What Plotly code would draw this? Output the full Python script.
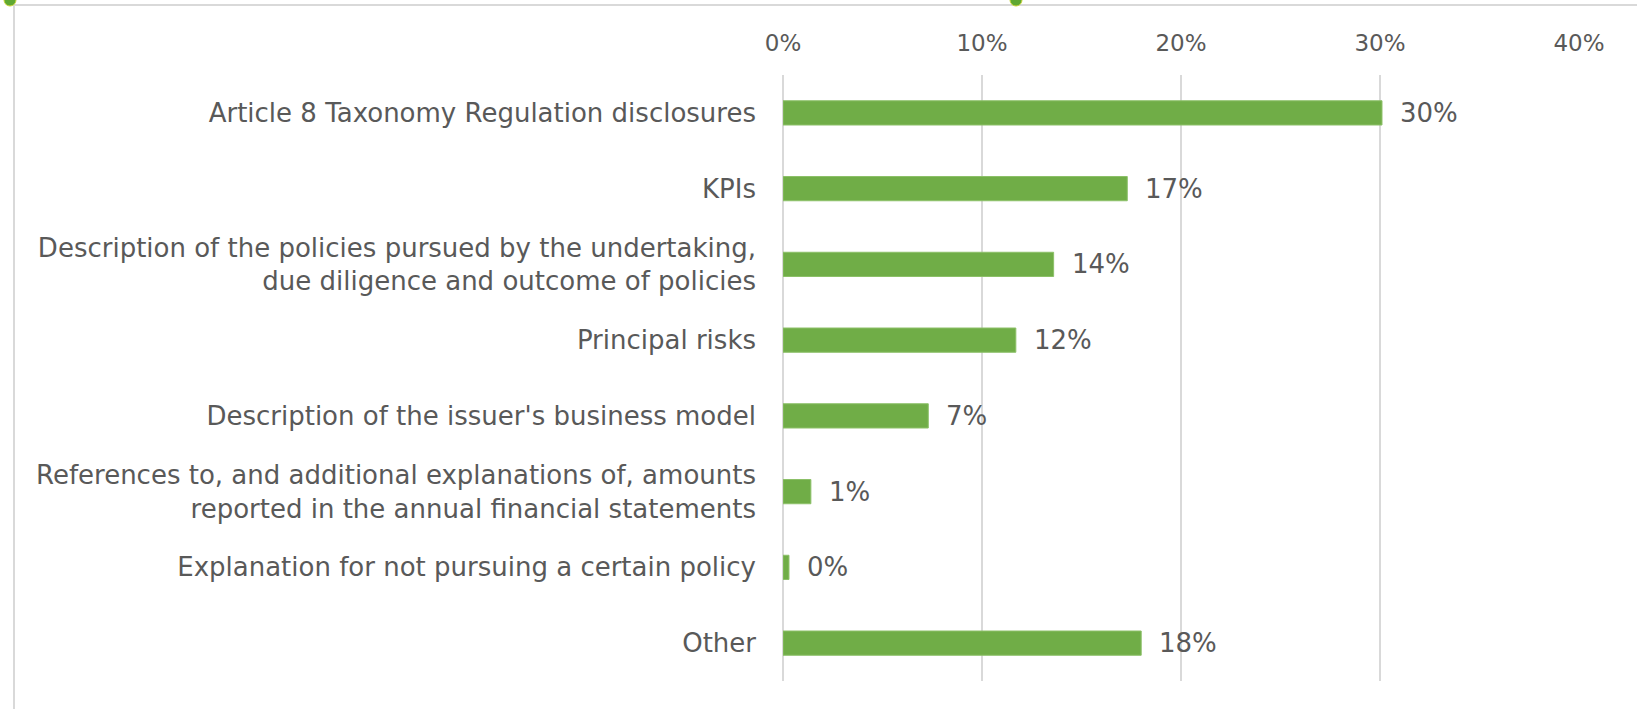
import plotly.graph_objects as go

categories = [
    "Article 8 Taxonomy Regulation disclosures",
    "KPIs",
    "Description of the policies pursued by the undertaking,<br>due diligence and outcome of policies",
    "Principal risks",
    "Description of the issuer's business model",
    "References to, and additional explanations of, amounts<br>reported in the annual financial statements",
    "Explanation for not pursuing a certain policy",
    "Other",
]
values = [30.1, 17.3, 13.6, 11.7, 7.3, 1.4, 0.3, 18.0]
tick_vals = [0, 10, 20, 30, 40]
tick_text = ["0%", "10%", "20%", "30%", "40%"]

W, H = 1637, 709
L, R, T, B = 783, 58, 75, 28
pw, ph = W - L - R, H - T - B

def px_x(p):
    return (p - L) / pw

def px_y(p):
    return (H - B - p) / ph

text_color = "#595959"
font_family = "DejaVu Sans, Liberation Sans, Arial, sans-serif"

fig = go.Figure()
fig.add_trace(go.Bar(
    y=categories,
    x=values,
    orientation="h",
    marker=dict(color="#70ad47", line=dict(color="#8cc068", width=1)),
    hoverinfo="skip",
))

for c, v in zip(categories, values):
    fig.add_annotation(
        x=v, y=c, xref="x", yref="y",
        text=f"{v:.0f}%", showarrow=False,
        xanchor="left", yanchor="middle", xshift=16,
        font=dict(family=font_family, size=26, color=text_color),
    )

# frame lines (top and left) and the two green handles
frame = "#d9d9d9"
fig.add_shape(type="line", xref="paper", yref="paper",
              x0=px_x(14), x1=px_x(W + 5), y0=px_y(5), y1=px_y(5),
              line=dict(color=frame, width=2))
fig.add_shape(type="line", xref="paper", yref="paper",
              x0=px_x(14), x1=px_x(14), y0=px_y(5), y1=px_y(H + 5),
              line=dict(color=frame, width=2))
for cx in (10, 1016):
    fig.add_shape(type="circle", xref="paper", yref="paper",
                  x0=px_x(cx - 6), x1=px_x(cx + 6), y0=px_y(-6), y1=px_y(6),
                  fillcolor="#5fa832", line=dict(color="#c8d43a", width=1))

fig.update_layout(
    width=W, height=H,
    margin=dict(l=L, r=R, t=T, b=B),
    paper_bgcolor="white", plot_bgcolor="white",
    bargap=0.68,
    showlegend=False,
    font=dict(family=font_family, color=text_color),
    xaxis=dict(
        side="top", range=[0, 40], tickvals=tick_vals, ticktext=tick_text,
        showgrid=True, gridcolor="#d9d9d9", gridwidth=2,
        zeroline=True, zerolinecolor="#d9d9d9", zerolinewidth=2,
        showline=False,
        tickfont=dict(size=23, color=text_color),
        ticks="", ticklabelstandoff=18,
    ),
    yaxis=dict(
        categoryorder="array", categoryarray=categories[::-1],
        showgrid=False, zeroline=False, showline=False,
        tickfont=dict(size=26, color=text_color),
        ticks="", ticklabelstandoff=26,
    ),
)
fig.write_html(
    "out.html",
    config={"displayModeBar": False, "staticPlot": True},
    post_script="document.body.style.margin='0px';document.body.style.padding='0px';",
)
